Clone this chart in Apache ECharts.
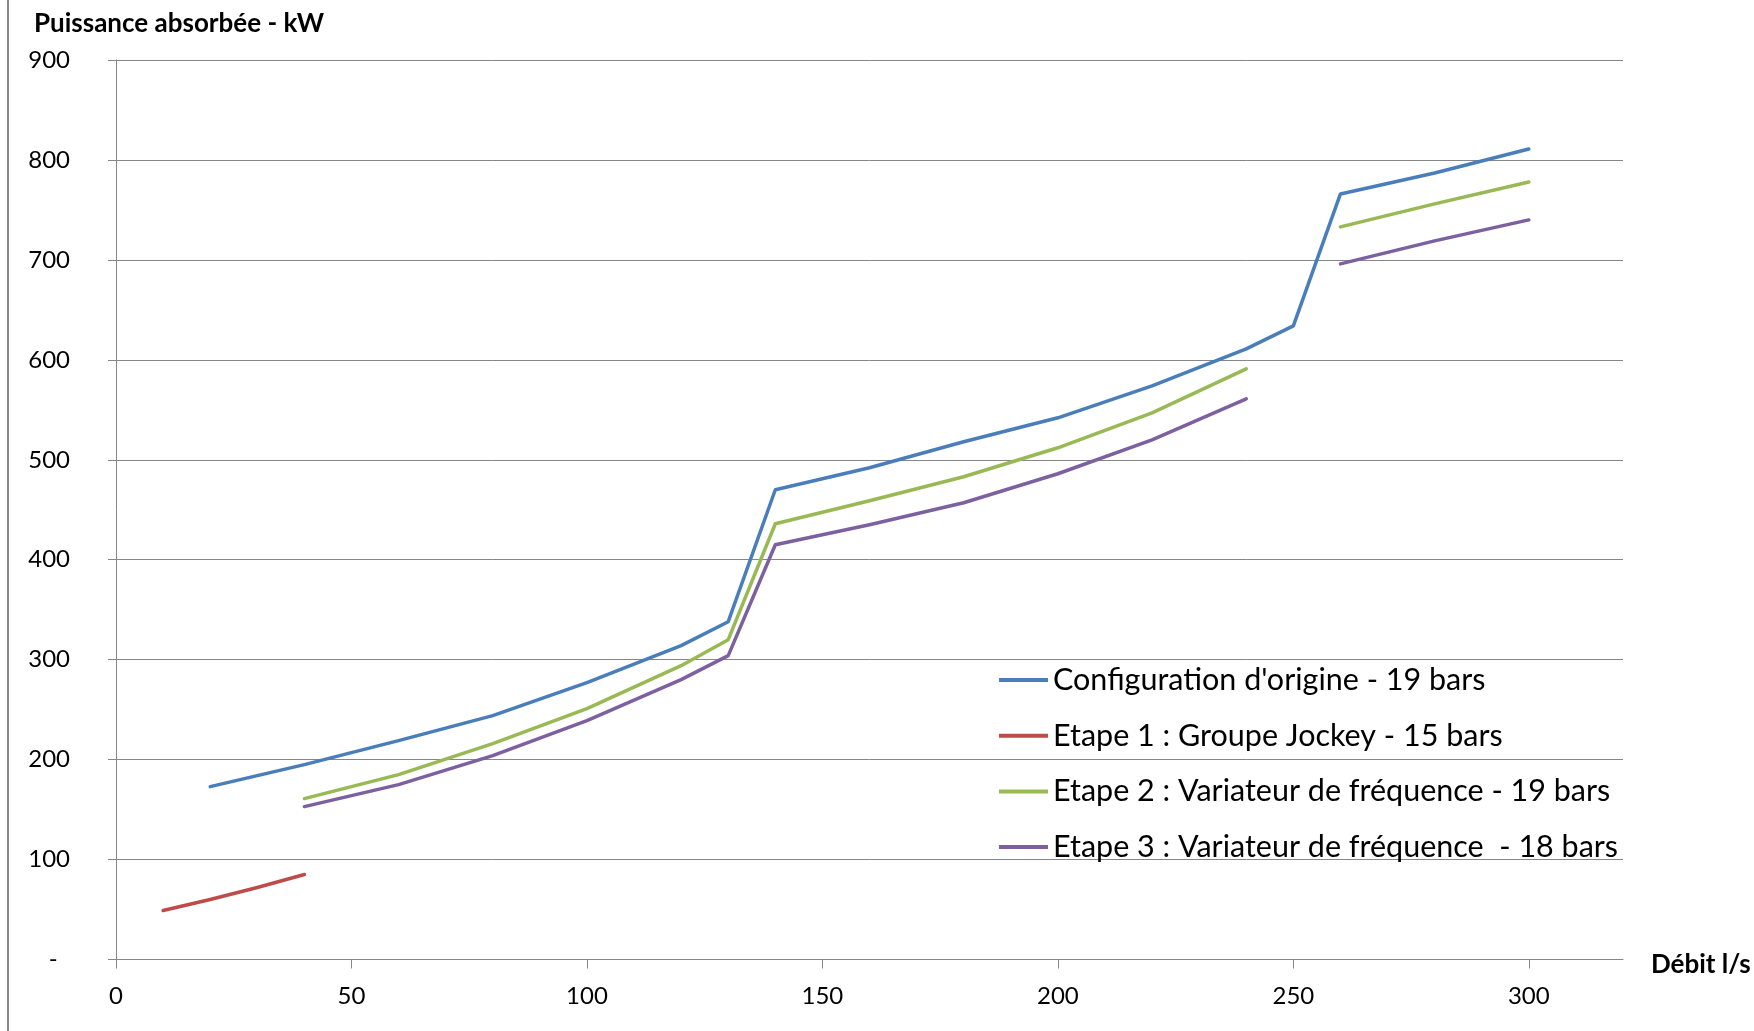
<!DOCTYPE html>
<html>
<head>
<meta charset="utf-8">
<title>Puissance absorbée</title>
<script src="https://cdn.jsdelivr.net/npm/echarts@6.0.0/dist/echarts.min.js"></script>
<style>
  html, body { margin: 0; padding: 0; background: #fff; }
  #chart { width: 1754px; height: 1031px; }
</style>
</head>
<body>
<div id="chart"></div>
<script>
// débit (l/s) et puissance absorbée (kW)
const debitOrigine = [20, 40, 60, 80, 100, 120, 130, 140, 160, 180, 200, 220, 240, 250, 260, 280, 300]
const puissanceOrigine = [173, 195, 219, 244, 277, 314, 338, 470, 492, 518, 542, 574, 611, 634, 766, 787, 811]

const debitJockey = [10, 20, 30, 40]
const puissanceJockey = [49, 60, 72, 85]

// 250 l/s vide -> coupure de la courbe
const debitVariateur = [40, 60, 80, 100, 120, 130, 140, 160, 180, 200, 220, 240, 250, 260, 280, 300]
const puissanceEtape2 = [161, 185, 216, 251, 294, 320, 436, 459, 483, 512, 547, 591, null, 733, 756, 778]
const puissanceEtape3 = [153, 175, 204, 239, 280, 304, 415, 435, 457, 486, 520, 561, null, 696, 719, 740]

const seriesNames = [
  "Configuration d'origine - 19 bars",
  'Etape 1 : Groupe Jockey - 15 bars',
  'Etape 2 : Variateur de fréquence - 19 bars',
  'Etape 3 : Variateur de fréquence  - 18 bars'
]
const colors = ['#4a7ebb', '#be4b48', '#98b954', '#7d60a0']

const xTicks = [0, 50, 100, 150, 200, 250, 300]

const FONT = 'Lato'
const GRID_COLOR = '#868686'

function pairs(xs, ys) {
  return xs.map((x, i) => [x, ys[i] == null ? '-' : ys[i]])
}

function lineSerie(name, data, color) {
  return {
    name: name,
    type: 'line',
    showSymbol: false,
    symbol: 'none',
    connectNulls: false,
    animation: false,
    lineStyle: { color: color, width: 3.5, cap: 'round', join: 'round' },
    itemStyle: { color: color },
    data: data
  }
}

const chart = echarts.init(document.getElementById('chart'))

const option = {
  backgroundColor: '#fff',
  title: {
    text: 'Puissance absorbée - kW',
    left: 29,
    top: 6,
    textStyle: { fontFamily: FONT, fontWeight: 'bold', fontSize: 26, color: '#000' }
  },
  legend: {
    orient: 'vertical',
    left: 994,
    top: 659,
    icon: 'rect',
    itemWidth: 49,
    itemHeight: 4,
    itemGap: 23.7,
    data: seriesNames,
    textStyle: { fontFamily: FONT, fontSize: 30.5, color: '#000', lineHeight: 32 }
  },
  grid: {
    left: 116,
    right: 131,
    top: 60,
    bottom: 71.5
  },
  xAxis: {
    type: 'value',
    min: 0,
    max: 320,
    interval: 50,
    name: 'Débit l/s',
    nameLocation: 'end',
    nameGap: 28,
    nameTextStyle: {
      fontFamily: FONT, fontWeight: 'bold', fontSize: 26, color: '#000',
      verticalAlign: 'top', lineHeight: 10
    },
    axisLine: { show: true, lineStyle: { color: GRID_COLOR, width: 1 } },
    axisTick: { show: true, length: 9, customValues: xTicks, lineStyle: { color: GRID_COLOR } },
    axisLabel: { customValues: xTicks, margin: 25, fontFamily: FONT, fontSize: 24, color: '#000' },
    splitLine: { show: false }
  },
  yAxis: {
    type: 'value',
    min: 0,
    max: 900,
    interval: 100,
    axisLine: { show: true, lineStyle: { color: GRID_COLOR, width: 1 } },
    axisTick: { show: true, length: 8, lineStyle: { color: GRID_COLOR } },
    axisLabel: {
      margin: 46,
      fontFamily: FONT,
      fontSize: 24,
      color: '#000',
      formatter: function(value) {
        return value === 0 ? '-  ' : String(value)
      }
    },
    splitLine: { show: true, lineStyle: { color: GRID_COLOR, width: 1 } }
  },
  graphic: [
    {
      type: 'line',
      shape: { x1: 8, y1: 0, x2: 8, y2: 1031 },
      style: { stroke: GRID_COLOR, lineWidth: 2 }
    }
  ],
  series: [
    lineSerie(seriesNames[0], pairs(debitOrigine, puissanceOrigine), colors[0]),
    lineSerie(seriesNames[1], pairs(debitJockey, puissanceJockey), colors[1]),
    lineSerie(seriesNames[2], pairs(debitVariateur, puissanceEtape2), colors[2]),
    lineSerie(seriesNames[3], pairs(debitVariateur, puissanceEtape3), colors[3])
  ]
}

chart.setOption(option)
</script>
</body>
</html>
